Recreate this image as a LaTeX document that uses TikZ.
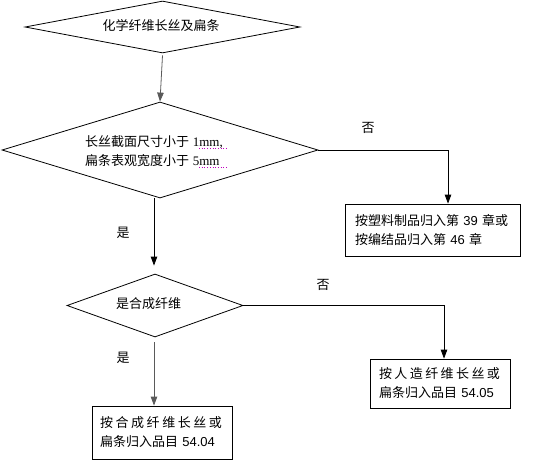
\documentclass[tikz,border=0pt]{standalone}
\usepackage{fontspec}
\setmainfont{Liberation Sans}
\newfontfamily\cjk{Noto Sans CJK SC}
\newfontfamily\tnr{Liberation Serif}
\usetikzlibrary{shapes.geometric,arrows.meta}
\definecolor{spell}{RGB}{190,0,190}
\definecolor{lgray}{RGB}{90,90,90}
\begin{document}
\begin{tikzpicture}[x=1pt,y=-1pt,
  dia/.style={draw, diamond, inner sep=0pt, line width=0.8pt},
  box/.style={draw, rectangle, line width=0.8pt, align=left, inner ysep=0pt,
    font=\fontsize{13}{19}\selectfont},
  txt/.style={font=\fontsize{13}{19}\selectfont, inner sep=0pt, align=left},
  arr/.style={line width=0.8pt, -{Triangle[length=9pt,width=6.5pt]}},
  ]
\useasboundingbox (0,0) rectangle (535,464);
% decisions
\node[dia, minimum width=275pt, minimum height=52pt] (D1) at (162.5,27) {};
\node[txt] (T1) at (161,26) {\cjk 化学纤维长丝及扁条};
\node[dia, minimum width=316pt, minimum height=96pt] (D2) at (160,150) {};
\node[txt, anchor=west] (T2) at (85,151) {{\cjk 长丝截面尺寸小于} {\tnr 1mm,}\\{\cjk 扁条表观宽度小于} {\tnr 5mm}};
\node[dia, minimum width=176pt, minimum height=63pt] (D3) at (155,305.5) {};
\node[txt] (T3) at (148.5,304) {\cjk 是合成纤维};
% boxes
\node[box, minimum width=175pt, minimum height=52pt, inner xsep=10pt, text width=155pt] (B1) at (432.5,230)
  {{\cjk 按塑料制品归入第} 39 {\cjk 章或}\\{\cjk 按编结品归入第} 46 {\cjk 章}};
\node[box, minimum width=140pt, minimum height=53pt, inner xsep=8pt, text width=124pt] (B2) at (162,432.5)
  {\makebox[122pt][s]{\cjk 按\hfill 合\hfill 成\hfill 纤\hfill 维\hfill 长\hfill 丝\hfill 或}\\{\cjk 扁条归入品目} 54.04};
\node[box, minimum width=140pt, minimum height=49pt, inner xsep=9pt, text width=122pt] (B3) at (440,383.5)
  {\makebox[121pt][s]{\cjk 按\hfill 人\hfill 造\hfill 纤\hfill 维\hfill 长\hfill 丝\hfill 或}\\{\cjk 扁条归入品目} 54.05};
% labels
\node[txt] (N1) at (368,128) {\cjk 否};
\node[txt] (Y1) at (123,233) {\cjk 是};
\node[txt] (N2) at (323,285) {\cjk 否};
\node[txt] (Y2) at (123,358) {\cjk 是};
% connectors
\draw[arr, lgray] ([yshift=-2pt]D1.south) -- (D2.north);
\draw[arr] (D2.east) -| ([xshift=15.5pt]B1.north);
\draw[arr] ([xshift=-6pt]D2.south) -- ([xshift=-6pt]D2.south |- D3.north) [shorten >=8pt];
\draw[arr] (D3.east) -| ([xshift=4pt]B3.north);
\draw[arr, lgray] ([xshift=-1pt,yshift=-5pt]D3.south) -- ([xshift=-1pt]D3.south |- B2.north);
% spell-check marks
\draw[spell, dotted, line width=0.7pt] (199,148.5) -- (227,148.5);
\draw[spell, dotted, line width=0.7pt] (199,167.5) -- (227,167.5);
\end{tikzpicture}
\end{document}
